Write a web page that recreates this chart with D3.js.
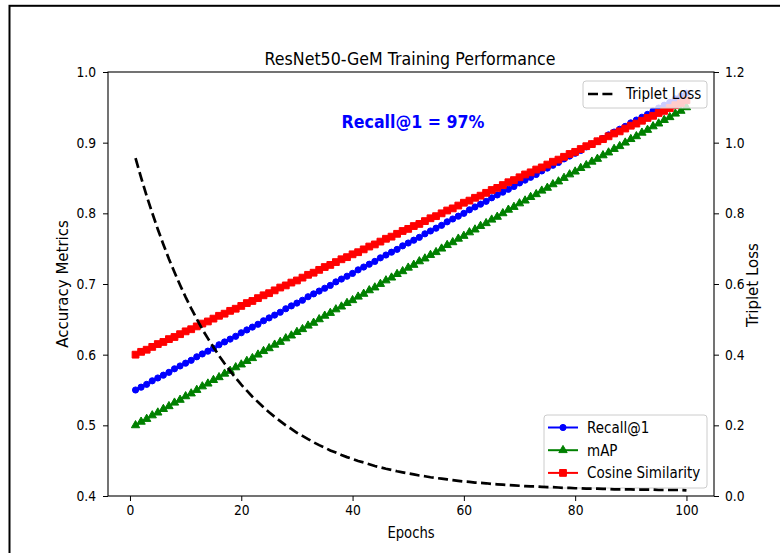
<!DOCTYPE html>
<html><head><meta charset="utf-8">
<script src="https://cdn.jsdelivr.net/npm/d3@7"></script>
<style>
html,body{margin:0;padding:0;background:#fff;}
svg text{font-family:"DejaVu Sans",sans-serif;fill:#000;}
</style></head>
<body><svg id="chart" width="780" height="553"></svg>
<script>
const epochs = d3.range(1, 101);
const recall = [0.550,0.554,0.558,0.563,0.567,0.571,0.575,0.580,0.584,0.588,0.592,0.597,0.601,0.605,0.609,0.614,0.618,0.622,0.626,0.631,0.635,0.639,0.643,0.648,0.652,0.656,0.660,0.665,0.669,0.673,0.677,0.682,0.686,0.690,0.694,0.698,0.703,0.707,0.711,0.715,0.720,0.724,0.728,0.732,0.737,0.741,0.745,0.749,0.754,0.758,0.762,0.766,0.771,0.775,0.779,0.783,0.788,0.792,0.796,0.800,0.805,0.809,0.813,0.817,0.822,0.826,0.830,0.834,0.838,0.843,0.847,0.851,0.855,0.860,0.864,0.868,0.872,0.877,0.881,0.885,0.889,0.894,0.898,0.902,0.906,0.911,0.915,0.919,0.923,0.928,0.932,0.936,0.940,0.945,0.949,0.953,0.957,0.962,0.966,0.970];
const mAP = [0.500,0.505,0.509,0.514,0.518,0.523,0.527,0.532,0.536,0.541,0.545,0.550,0.555,0.559,0.564,0.568,0.573,0.577,0.582,0.586,0.591,0.595,0.600,0.605,0.609,0.614,0.618,0.623,0.627,0.632,0.636,0.641,0.645,0.650,0.655,0.659,0.664,0.668,0.673,0.677,0.682,0.686,0.691,0.695,0.700,0.705,0.709,0.714,0.718,0.723,0.727,0.732,0.736,0.741,0.745,0.750,0.755,0.759,0.764,0.768,0.773,0.777,0.782,0.786,0.791,0.795,0.800,0.805,0.809,0.814,0.818,0.823,0.827,0.832,0.836,0.841,0.845,0.850,0.855,0.859,0.864,0.868,0.873,0.877,0.882,0.886,0.891,0.895,0.900,0.905,0.909,0.914,0.918,0.923,0.927,0.932,0.936,0.941,0.945,0.950];
const cosine = [0.600,0.604,0.607,0.611,0.615,0.618,0.622,0.625,0.629,0.633,0.636,0.640,0.644,0.647,0.651,0.655,0.658,0.662,0.665,0.669,0.673,0.676,0.680,0.684,0.687,0.691,0.695,0.698,0.702,0.705,0.709,0.713,0.716,0.720,0.724,0.727,0.731,0.735,0.738,0.742,0.745,0.749,0.753,0.756,0.760,0.764,0.767,0.771,0.775,0.778,0.782,0.785,0.789,0.793,0.796,0.800,0.804,0.807,0.811,0.815,0.818,0.822,0.825,0.829,0.833,0.836,0.840,0.844,0.847,0.851,0.855,0.858,0.862,0.865,0.869,0.873,0.876,0.880,0.884,0.887,0.891,0.895,0.898,0.902,0.905,0.909,0.913,0.916,0.920,0.924,0.927,0.931,0.935,0.938,0.942,0.945,0.949,0.953,0.956,0.960];
const tripletLoss = [0.956,0.901,0.849,0.801,0.755,0.712,0.671,0.633,0.597,0.563,0.531,0.501,0.472,0.446,0.421,0.397,0.375,0.354,0.334,0.315,0.298,0.281,0.266,0.251,0.237,0.224,0.212,0.200,0.190,0.179,0.170,0.161,0.152,0.144,0.137,0.129,0.123,0.116,0.110,0.105,0.099,0.095,0.090,0.085,0.081,0.077,0.074,0.070,0.067,0.064,0.061,0.058,0.056,0.053,0.051,0.049,0.047,0.045,0.043,0.041,0.040,0.038,0.037,0.036,0.034,0.033,0.032,0.031,0.030,0.029,0.028,0.027,0.027,0.026,0.025,0.025,0.024,0.023,0.023,0.022,0.022,0.021,0.021,0.021,0.020,0.020,0.019,0.019,0.019,0.019,0.018,0.018,0.018,0.018,0.017,0.017,0.017,0.017,0.017,0.016];
const xTicks = [0, 20, 40, 60, 80, 100];
const yLeftTicks = [0.4, 0.5, 0.6, 0.7, 0.8, 0.9, 1.0];
const yRightTicks = [0.0, 0.2, 0.4, 0.6, 0.8, 1.0, 1.2];
const seriesNames = ["Recall@1", "mAP", "Cosine Similarity"];
const seriesColors = ["#0000ff", "#008000", "#ff0000"];
const titleText = "ResNet50-GeM Training Performance";
const annotation = "Recall@1 = 97%";

const SX = 0.88;
const svg = d3.select("#chart");

// outer frame
svg.append("rect").attr("x", 9.5).attr("y", 5.8).attr("width", 900).attr("height", 700)
  .attr("fill", "none").attr("stroke", "#000").attr("stroke-width", 2);

const L = 108, R = 714, T = 72, B = 496;
const x = d3.scaleLinear().domain([-3.95, 104.95]).range([L, R]);
const yL = d3.scaleLinear().domain([0.4, 1.0]).range([B, T]);
const yR = d3.scaleLinear().domain([0, 1.2]).range([B, T]);

svg.append("clipPath").attr("id", "clip").append("rect")
  .attr("x", L).attr("y", T).attr("width", R - L).attr("height", B - T);

// series
const series = [recall, mAP, cosine];
const symbols = [
  d3.symbol().type(d3.symbolCircle).size(30),
  d3.symbol().type(d3.symbolTriangle).size(30),
  d3.symbol().type(d3.symbolSquare).size(46)
];
const plot = svg.append("g").attr("clip-path", "url(#clip)");
series.forEach((vals, si) => {
  const data = epochs.map((e, i) => [e, vals[i]]);
  const g = plot.append("g");
  g.append("path").datum(data)
    .attr("d", d3.line().x(d => x(d[0])).y(d => yL(d[1])))
    .attr("fill", "none").attr("stroke", seriesColors[si]).attr("stroke-width", 2);
  g.selectAll("path.m").data(data).join("path").attr("class", "m")
    .attr("transform", d => `translate(${x(d[0])},${yL(d[1])})`)
    .attr("d", symbols[si]())
    .attr("fill", seriesColors[si]).attr("stroke", seriesColors[si]).attr("stroke-width", 1);
});

function squish(sel, dx) {
  sel.selectAll("text").attr("x", 0).attr("transform", `translate(${dx},0) scale(${SX},1)`);
}

// axes
const fmt = d3.format(".1f");
const gx = svg.append("g").attr("transform", `translate(0,${B})`)
  .call(d3.axisBottom(x).tickValues(xTicks).tickSize(5).tickPadding(4).tickFormat(d3.format("d")));
const gyl = svg.append("g").attr("transform", `translate(${L},0)`)
  .call(d3.axisLeft(yL).tickValues(yLeftTicks).tickSize(5).tickPadding(7).tickFormat(fmt));
const gyr = svg.append("g").attr("transform", `translate(${R},0)`)
  .call(d3.axisRight(yR).tickValues(yRightTicks).tickSize(5).tickPadding(6).tickFormat(fmt));
[gx, gyl, gyr].forEach(g => {
  g.select(".domain").remove();
  g.selectAll("line").attr("stroke", "#000").attr("stroke-width", 1);
  g.selectAll("text").attr("font-size", 14).attr("font-family", "DejaVu Sans").attr("fill", "#000");
});
squish(gx, 0); squish(gyl, -12); squish(gyr, 11);

// spines
svg.append("rect").attr("x", L).attr("y", T).attr("width", R - L).attr("height", B - T)
  .attr("fill", "none").attr("stroke", "#000").attr("stroke-width", 1.1);

// labels
svg.append("text").attr("transform", `translate(410,65) scale(${SX},1)`)
  .attr("text-anchor", "middle").attr("font-size", 18).text(titleText);
svg.append("text").attr("transform", `translate(411,538) scale(${SX},1)`)
  .attr("text-anchor", "middle").attr("font-size", 15).text("Epochs");
svg.append("text").attr("transform", `translate(68,284) rotate(-90)`)
  .attr("text-anchor", "middle").attr("font-size", 15).text("Accuracy Metrics");
svg.append("text").attr("transform", `translate(758,285) rotate(-90)`)
  .attr("text-anchor", "middle").attr("font-size", 15).text("Triplet Loss");

// lower legend (primary axes)
const lg = svg.append("g");
lg.append("rect").attr("x", 544).attr("y", 415).attr("width", 163).attr("height", 73).attr("rx", 3)
  .attr("fill", "#fff").attr("fill-opacity", 0.8).attr("stroke", "#cccccc");
seriesNames.forEach((name, i) => {
  const yy = 427.5 + i * 22.7;
  lg.append("line").attr("x1", 548).attr("x2", 578).attr("y1", yy).attr("y2", yy)
    .attr("stroke", seriesColors[i]).attr("stroke-width", 2);
  lg.append("path").attr("transform", `translate(563,${yy})`).attr("d", symbols[i]())
    .attr("fill", seriesColors[i]).attr("stroke", seriesColors[i]);
  lg.append("text").attr("transform", `translate(587,${yy}) scale(0.9,1)`).attr("dy", "0.36em")
    .attr("font-size", 15).text(name);
});

// loss (secondary axes)
const lossData = epochs.map((e, i) => [e, tripletLoss[i]]);
svg.append("path").datum(lossData).attr("clip-path", "url(#clip)")
  .attr("d", d3.line().x(d => x(d[0])).y(d => yR(d[1])))
  .attr("fill", "none").attr("stroke", "#000").attr("stroke-width", 2.7)
  .attr("stroke-dasharray", "10,4.4");

// annotation
svg.append("text").attr("transform", `translate(413,128) scale(${SX},1)`)
  .attr("text-anchor", "middle").attr("font-size", 18).attr("font-weight", "bold")
  .style("fill", "#0000ff").text(annotation);

// upper legend
const lg2 = svg.append("g");
lg2.append("rect").attr("x", 583).attr("y", 81).attr("width", 124).attr("height", 27).attr("rx", 3)
  .attr("fill", "#fff").attr("fill-opacity", 0.8).attr("stroke", "#cccccc");
lg2.append("line").attr("x1", 588).attr("x2", 613).attr("y1", 94).attr("y2", 94)
  .attr("stroke", "#000").attr("stroke-width", 2.7).attr("stroke-dasharray", "10,4.4");
lg2.append("text").attr("transform", `translate(626,94) scale(0.9,1)`).attr("dy", "0.36em")
  .attr("font-size", 15).text("Triplet Loss");
</script></body></html>
